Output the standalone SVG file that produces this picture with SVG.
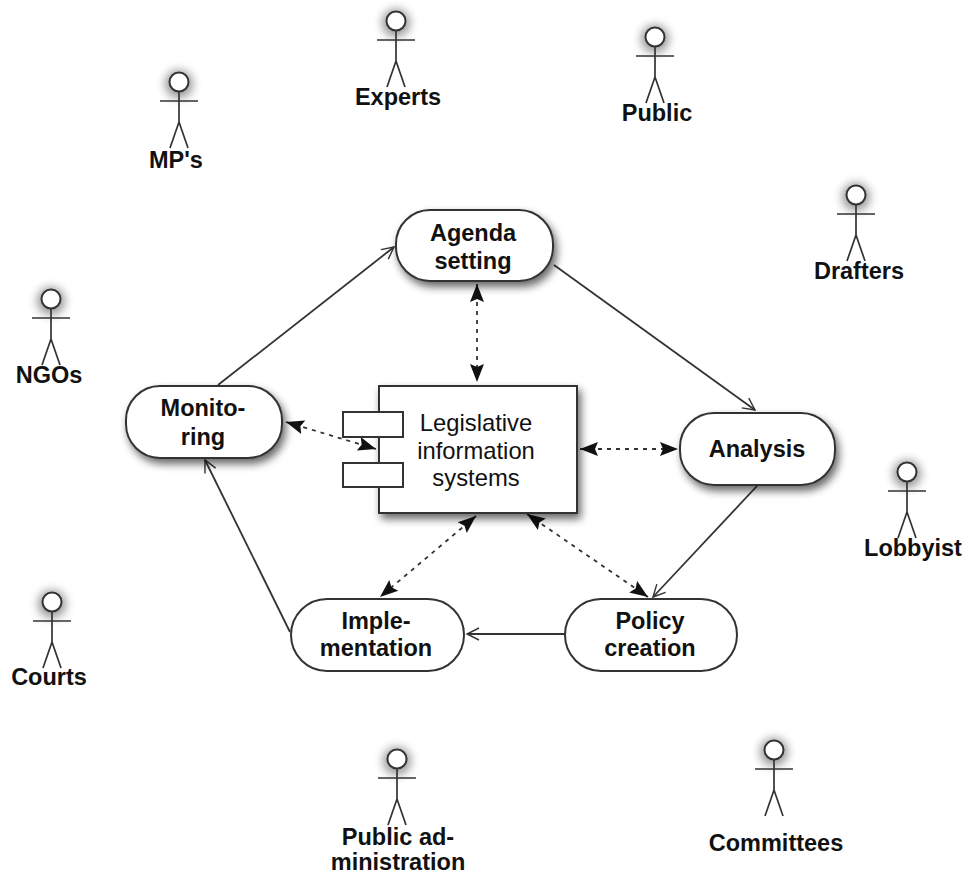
<svg xmlns="http://www.w3.org/2000/svg" width="964" height="875" viewBox="0 0 964 875">
<defs>
<filter id="sh" x="-30%" y="-30%" width="170%" height="170%"><feGaussianBlur in="SourceAlpha" stdDeviation="4"/><feOffset dx="3" dy="5"/><feComponentTransfer><feFuncA type="linear" slope="0.6"/></feComponentTransfer><feMerge><feMergeNode/><feMergeNode in="SourceGraphic"/></feMerge></filter>
<filter id="hs" x="-100%" y="-100%" width="300%" height="300%"><feGaussianBlur stdDeviation="5"/></filter>
<marker id="open" markerWidth="16" markerHeight="14" refX="14" refY="7" orient="auto" markerUnits="userSpaceOnUse"><path d="M2 1L14 7L2 13" fill="none" stroke="#333" stroke-width="1.4"/></marker>
<marker id="solid" markerWidth="20" markerHeight="16" refX="18" refY="8" orient="auto-start-reverse" markerUnits="userSpaceOnUse"><path d="M0 1L18 8L0 15L3 8Z" fill="#111"/></marker>
<g id="actor"><circle cx="0" cy="2" r="14" fill="#000" opacity="0.4" filter="url(#hs)"/><circle cx="0" cy="0" r="9.5" fill="#fff" stroke="#333" stroke-width="2"/><path d="M0 10V40M-19 19H19M0 40L-9 66M0 40L9 66" fill="none" stroke="#333" stroke-width="1.7"/></g>
</defs>
<style>
text{font-family:"Liberation Sans",Arial,sans-serif;fill:#111;text-anchor:middle}
.b{font-weight:700;font-size:23.5px}
.r{font-size:23.8px}
.n{fill:#fff;stroke:#333;stroke-width:2}
.p{fill:#fff;stroke:#333;stroke-width:2}
.c{fill:none;stroke:#333;stroke-width:1.8}
.d{fill:none;stroke:#333;stroke-width:1.8;stroke-dasharray:4 5}
</style>
<rect width="964" height="875" fill="#fff"/>
<g id="connectors">
<path class="c" marker-end="url(#open)" d="M218 385L394 247"/>
<path class="c" marker-end="url(#open)" d="M554 265L755 410"/>
<path class="c" marker-end="url(#open)" d="M757 486L653 597"/>
<path class="c" marker-end="url(#open)" d="M565 634H467"/>
<path class="c" marker-end="url(#open)" d="M290 632L205 460"/>
<path class="d" marker-start="url(#solid)" marker-end="url(#solid)" d="M477 284V382"/>
<path class="d" marker-start="url(#solid)" marker-end="url(#solid)" d="M286 422L376 449"/>
<path class="d" marker-start="url(#solid)" marker-end="url(#solid)" d="M580 449H678"/>
<path class="d" marker-start="url(#solid)" marker-end="url(#solid)" d="M476 516L380 597"/>
<path class="d" marker-start="url(#solid)" marker-end="url(#solid)" d="M527 514L648 597"/>
</g>
<g id="node-agenda"><rect class="n" filter="url(#sh)" x="396" y="210" width="157" height="71" rx="34"/><text class="b" x="473" y="241">Agenda</text><text class="b" x="473" y="269">setting</text></g>
<g id="node-monitoring"><rect class="n" filter="url(#sh)" x="126" y="386" width="156" height="72" rx="34"/><text class="b" x="203" y="416">Monito-</text><text class="b" x="203" y="445">ring</text></g>
<g id="node-analysis"><rect class="n" filter="url(#sh)" x="680" y="413" width="155" height="72" rx="34"/><text class="b" x="757" y="457">Analysis</text></g>
<g id="node-policy"><rect class="n" x="565" y="599" width="172" height="72" rx="36"/><text class="b" x="650" y="629">Policy</text><text class="b" x="650" y="656">creation</text></g>
<g id="node-implementation"><rect class="n" x="291" y="599" width="173" height="72" rx="36"/><text class="b" x="376" y="629">Imple-</text><text class="b" x="376" y="656">mentation</text></g>
<g id="node-system"><rect class="n" filter="url(#sh)" x="379" y="386" width="198" height="127"/><rect class="p" x="343" y="412" width="60" height="25"/><rect class="p" x="343" y="463" width="60" height="24"/><text class="r" x="476" y="431">Legislative</text><text class="r" x="476" y="459">information</text><text class="r" x="476" y="486">systems</text></g>
<g id="actor-mps"><use href="#actor" x="179" y="82"/><text class="b" x="176" y="168">MP's</text></g>
<g id="actor-experts"><use href="#actor" x="396" y="21"/><text class="b" x="398" y="105">Experts</text></g>
<g id="actor-public"><use href="#actor" x="655" y="37"/><text class="b" x="657" y="121">Public</text></g>
<g id="actor-drafters"><use href="#actor" x="856" y="195"/><text class="b" x="859" y="279">Drafters</text></g>
<g id="actor-ngos"><use href="#actor" x="51" y="299"/><text class="b" x="49" y="383">NGOs</text></g>
<g id="actor-lobbyist"><use href="#actor" x="907" y="472"/><text class="b" x="913" y="556">Lobbyist</text></g>
<g id="actor-courts"><use href="#actor" x="52" y="602"/><text class="b" x="49" y="685">Courts</text></g>
<g id="actor-public-admin"><use href="#actor" x="397" y="759"/><text class="b" x="398" y="845">Public ad-</text><text class="b" x="398" y="870">ministration</text></g>
<g id="actor-committees"><use href="#actor" x="774" y="750"/><text class="b" x="776" y="851">Committees</text></g>
</svg>
